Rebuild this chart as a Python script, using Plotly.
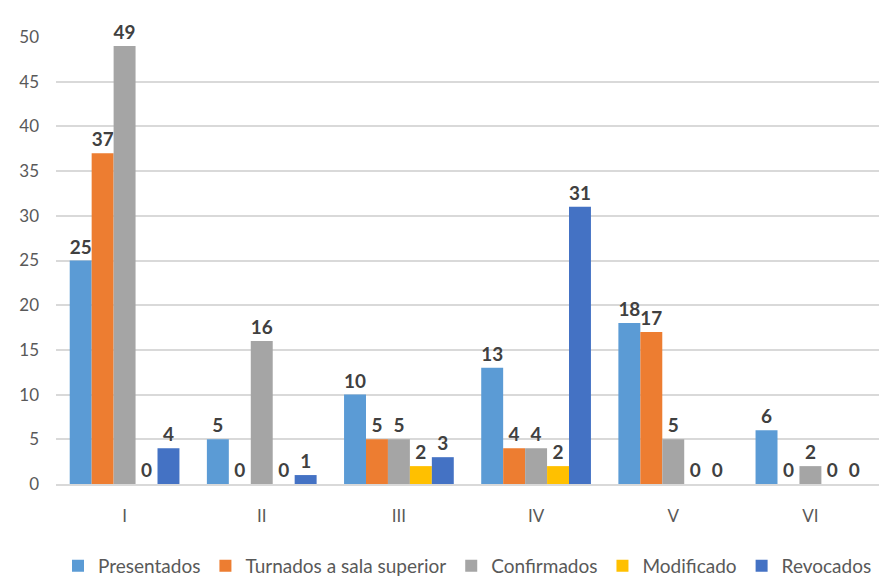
import plotly.graph_objects as go

categories = ["I", "II", "III", "IV", "V", "VI"]
presentados = [25, 5, 10, 13, 18, 6]
turnados = [37, 0, 5, 4, 17, 0]
confirmados = [49, 16, 5, 4, 5, 2]
modificado = [0, 0, 2, 2, 0, 0]
revocados = [4, 1, 3, 31, 0, 0]

series = [
    ("Presentados", presentados, "#5B9BD5"),
    ("Turnados a sala superior", turnados, "#ED7D31"),
    ("Confirmados", confirmados, "#A5A5A5"),
    ("Modificado", modificado, "#FFC000"),
    ("Revocados", revocados, "#4472C4"),
]

font_family = "Lato, Open Sans, sans-serif"

fig = go.Figure()
for name, vals, color in series:
    fig.add_trace(go.Bar(
        x=categories, y=vals, name=name,
        marker=dict(color=color, line=dict(width=0)),
        text=[str(v) for v in vals], textposition="outside",
        textfont=dict(family=font_family, size=19, color="#404040", weight="bold"),
        cliponaxis=False,
    ))

fig.update_layout(
    width=894, height=579,
    barmode="group", bargap=0.2, bargroupgap=0,
    plot_bgcolor="white", paper_bgcolor="white",
    margin=dict(l=48, r=23, t=29, b=103, autoexpand=False),
    font=dict(family=font_family, color="#595959"),
    legend=dict(orientation="h", x=0.5, xanchor="center",
                y=-0.183, yanchor="middle",
                font=dict(size=19, color="#595959"), itemwidth=30,
                traceorder="normal", itemclick=False),
    xaxis=dict(tickfont=dict(size=17, color="#595959"), showline=True,
               linecolor="#D9D9D9", linewidth=2, ticks="", ticklabelstandoff=16),
    yaxis=dict(range=[0, 50], dtick=5, tickfont=dict(size=17, color="#595959"),
               gridcolor="#D9D9D9", gridwidth=2, zeroline=False, ticks="",
               ticklabelstandoff=16),
)

fig.write_html("out.html")
